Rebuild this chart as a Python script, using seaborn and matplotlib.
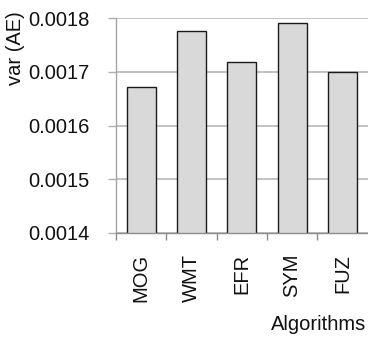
import matplotlib
matplotlib.use("Agg")
import matplotlib.pyplot as plt
import seaborn as sns
import pandas as pd

algorithms = ["MOG", "WMT", "EFR", "SYM", "FUZ"]
variance = [0.001671, 0.001776, 0.001719, 0.001791, 0.001699]
y_ticks = [0.0014, 0.0015, 0.0016, 0.0017, 0.0018]

sns.set_theme(style="white")
plt.rcParams["font.family"] = ["Liberation Sans", "DejaVu Sans"]

df = pd.DataFrame({"Algorithms": algorithms, "var (AE)": variance})

fig = plt.figure(figsize=(3.68, 3.37), dpi=100)
ax = fig.add_axes([0.315, 0.309, 0.684, 0.637])

sns.barplot(data=df, x="Algorithms", y="var (AE)", ax=ax, color="#d9d9d9",
            edgecolor="#1a1a1a", linewidth=1.0, width=0.575, saturation=1)

fs = 14.5
ax.set_ylim(0.0014, 0.0018)
ax.set_yticks(y_ticks)
ax.set_yticklabels([f"{t:.4f}" for t in y_ticks], fontsize=fs, color="#111111")
ax.set_xlim(-0.5, 4.5)
ax.set_xticks([-0.5, 0.5, 1.5, 2.5, 3.5])
ax.set_xticklabels([])
ax.set_xticks(range(5), minor=True)
ax.set_xticklabels(algorithms, minor=True, rotation=90, fontsize=fs, color="#111111")
ax.tick_params(axis="x", which="minor", length=0, pad=15)
ax.tick_params(axis="x", which="major", length=5, width=1, color="#8c8c8c", direction="out", bottom=True)
ax.tick_params(axis="y", length=6, width=1, color="#b0b0b0", direction="out", left=True, pad=13)

ax.yaxis.grid(True, color="#bdbdbd", linewidth=1.3)
ax.set_axisbelow(True)
for side in ["top", "right"]:
    ax.spines[side].set_visible(False)
ax.spines["left"].set_color("#a6a6a6")
ax.spines["left"].set_linewidth(1.0)
ax.spines["bottom"].set_color("#8c8c8c")
ax.spines["bottom"].set_linewidth(1.0)

ax.set_xlabel("")
ax.set_ylabel("")
fig.text(0.043, 0.857, "var (AE)", rotation=90, ha="center", va="center", fontsize=fs, color="#111111")
fig.text(0.865, 0.038, "Algorithms", ha="center", va="center", fontsize=fs, color="#111111")

fig.savefig("out.png", dpi=100)
